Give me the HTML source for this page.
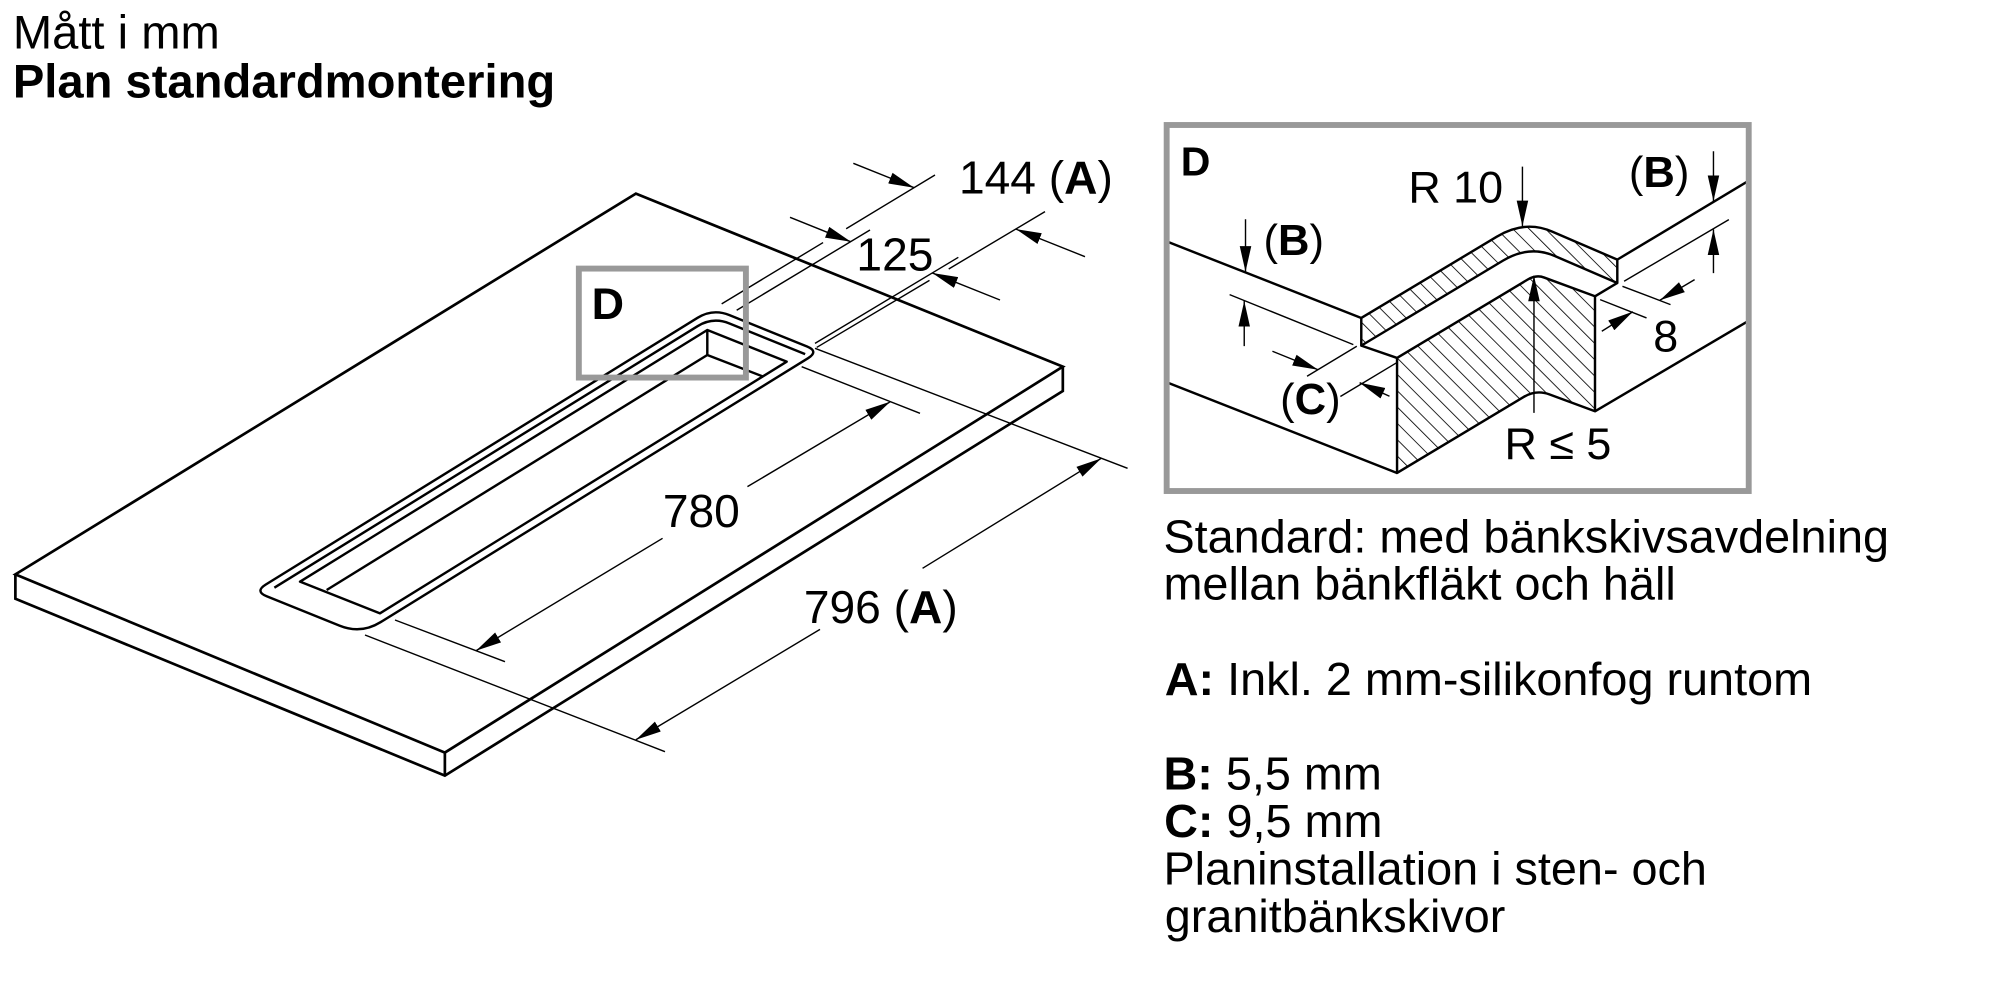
<!DOCTYPE html>
<html>
<head>
<meta charset="utf-8">
<style>
  html, body { margin:0; padding:0; background:#fff; }
  svg { display:block; }
  text { font-family: "Liberation Sans", Arial, sans-serif; fill:#000; }
</style>
</head>
<body>
<svg width="2000" height="1000" viewBox="0 0 1560 780" xmlns="http://www.w3.org/2000/svg">
  <defs>
    <marker id="ar" viewBox="0 0 20 10" refX="20" refY="5" markerWidth="20" markerHeight="10" markerUnits="userSpaceOnUse" orient="auto">
      <path d="M0,0.5 L20,5 L0,9.5 z" fill="#000"/>
    </marker>
    <pattern id="hatch" width="9" height="9" patternUnits="userSpaceOnUse" patternTransform="rotate(-45)">
      <line x1="0" y1="0" x2="0" y2="9" stroke="#000" stroke-width="1.3"/>
    </pattern>
    <clipPath id="pclip">
      <rect x="912" y="99.5" width="450" height="281.5"/>
    </clipPath>
  </defs>

  <!-- Titles -->
  <text x="10" y="38" font-size="36.8">Mått i mm</text>
  <text x="10" y="76" font-size="36.8" font-weight="bold">Plan standardmontering</text>

  <!-- Slab -->
  <g fill="none" stroke="#000" stroke-width="2.1" stroke-linejoin="miter">
    <path d="M496,151 L829,286 L347,587 L12,448 Z"/>
    <path d="M12,448 L12,467 L347,605 L829,305 L829,286"/>
    <path d="M347,587 L347,605"/>
  </g>

  <!-- Slot -->
  <g fill="none" stroke="#000" stroke-width="1.9" stroke-linejoin="round">
    <path d="M569,245.8 L629.5,270.3 Q638.8,274.1 630.3,279.4 L296.8,485.3 Q281.5,494.8 264.8,488 L208,465.1 Q198.7,461.3 207.2,456 L544.1,247.9 Q556,240.5 569,245.8 Z"/>
    <path d="M214,458.4 L544.1,254.4 Q556,247 569,252.3 L628,276.2"/>
    <path d="M551.7,257.4 L613.6,282.1 L296.4,478.4 L234,453.7 Z"/>
    <path d="M551.7,257.4 L551.7,276.9 L595.4,293.8"/>
    <path d="M551.7,276.9 L254.8,460.2"/>
  </g>

  <!-- Dimension lines left drawing -->
  <g fill="none" stroke="#000" stroke-width="1.1">
    <path d="M562.9,237 L642,189.2 M660,178.4 L729.3,136.5"/>
    <path d="M574.6,242 L678.6,179.4"/>
    <path d="M637,271 L725,218.7 M740,209.8 L815.1,165.1"/>
    <path d="M635.7,267.8 L747.5,200.7"/>
    <path d="M625.3,286 L717.6,322.4"/>
    <path d="M308.1,483.6 L393.9,516.1"/>
    <path d="M635.7,271.7 L879.5,365.3"/>
    <path d="M284.7,495.3 L518.7,586.3"/>
  </g>
  <g fill="none" stroke="#000" stroke-width="1.1" marker-end="url(#ar)">
    <path d="M665.6,127.4 L713,146.4"/>
    <path d="M846.3,200.2 L792.4,178.7"/>
    <path d="M616.2,169.5 L663.7,188.6"/>
    <path d="M780,234 L727.2,212.9"/>
    <path d="M583,379.6 L694.5,313.3"/>
    <path d="M516.8,419.9 L371.4,507.5"/>
    <path d="M719.6,443.3 L859,357.5"/>
    <path d="M639.6,490.9 L496,577"/>
  </g>

  <!-- D box on left drawing -->
  <rect x="451.5" y="209.5" width="130.3" height="85" fill="none" stroke="#999" stroke-width="4.6"/>
  <text x="461.5" y="249" font-size="35" font-weight="bold">D</text>

  <!-- Left drawing labels -->
  <text x="748" y="151" font-size="36">144 (<tspan font-weight="bold">A</tspan>)</text>
  <text x="668" y="211" font-size="36">125</text>
  <text x="517" y="411" font-size="36">780</text>
  <text x="627" y="486" font-size="36">796 (<tspan font-weight="bold">A</tspan>)</text>

  <!-- Detail panel D -->
  <g clip-path="url(#pclip)">
   <g transform="translate(-4.5,0)">
    <path d="M1066.3,248 L1172,184.6 Q1193.9,171.4 1215,180.6 L1266,202.5 L1266,220.7 L1217,199.6 Q1197.2,191.1 1177,203.2 L1066.3,269.6 Z" fill="url(#hatch)" stroke="#000" stroke-width="1.9" stroke-linejoin="round"/>
    <path d="M1094.2,279.2 L1196,218.1 Q1202.7,214.1 1209,216.5 L1248.6,231.1 L1248.6,320.8 L1213,307.6 Q1202.7,303.8 1193,309.6 L1094.2,368.9 Z" fill="url(#hatch)" stroke="#000" stroke-width="1.9" stroke-linejoin="round"/>
    <g fill="none" stroke="#000" stroke-width="1.9">
      <path d="M905,184.6 L1066.3,248"/>
      <path d="M905,294.4 L1094.2,368.9"/>
      <path d="M1066.3,269.6 L1094.2,279.2"/>
      <path d="M1266,220.7 L1248.6,231.1"/>
      <path d="M1266,202.5 L1372,138.9"/>
      <path d="M1248.6,320.8 L1372,248.1"/>
    </g>
    <g fill="none" stroke="#000" stroke-width="1.1">
      <path d="M963.6,229.8 L1060.1,268.8"/>
      <path d="M1024,293.5 L1062.8,270.1"/>
      <path d="M1050,309.3 L1093.6,283.1"/>
      <path d="M1271.3,219.4 L1353,171.3"/>
      <path d="M1270,223.3 L1307.5,237.6"/>
      <path d="M1252.6,233.7 L1288.8,248"/>
    </g>
    <g fill="none" stroke="#000" stroke-width="1.1" marker-end="url(#ar)">
      <path d="M976,171 L976,212"/>
      <path d="M975,270 L975,234.8"/>
      <path d="M997,274 L1032.6,288.4"/>
      <path d="M1088.3,309.1 L1065,298.5"/>
      <path d="M1192,130 L1192,176.5"/>
      <path d="M1201,322 L1201,215"/>
      <path d="M1341,118 L1341,156.8"/>
      <path d="M1341,213 L1341,179"/>
      <path d="M1326.3,218.1 L1299.2,234.2"/>
      <path d="M1253.9,258.4 L1278.2,243.1"/>
    </g>
   </g>
  </g>
  <rect x="910" y="97.5" width="454" height="285.5" fill="none" stroke="#999" stroke-width="4.6"/>
  <text x="921" y="137" font-size="32" font-weight="bold">D</text>
  <g transform="translate(-4.5,0)">
    <text x="1103" y="158" font-size="35">R 10</text>
    <text x="1275" y="146" font-size="34">(<tspan font-weight="bold">B</tspan>)</text>
    <text x="990" y="199" font-size="34">(<tspan font-weight="bold">B</tspan>)</text>
    <text x="1003" y="323" font-size="34">(<tspan font-weight="bold">C</tspan>)</text>
    <text x="1294" y="274" font-size="35">8</text>
    <text x="1178" y="358" font-size="35">R ≤ 5</text>
  </g>

  <!-- Right texts -->
  <text x="907.5" y="431" font-size="36.5">Standard: med bänkskivsavdelning</text>
  <text x="907.5" y="467.5" font-size="36.5">mellan bänkfläkt och häll</text>
  <text x="908.5" y="542" font-size="36.5"><tspan font-weight="bold">A:</tspan> Inkl. 2 mm-silikonfog runtom</text>
  <text x="907.5" y="616" font-size="36.5"><tspan font-weight="bold">B:</tspan> 5,5 mm</text>
  <text x="908" y="653" font-size="36.5"><tspan font-weight="bold">C:</tspan> 9,5 mm</text>
  <text x="907.5" y="690" font-size="36.5">Planinstallation i sten- och</text>
  <text x="908.5" y="727" font-size="36.5">granitbänkskivor</text>
</svg>
</body>
</html>
